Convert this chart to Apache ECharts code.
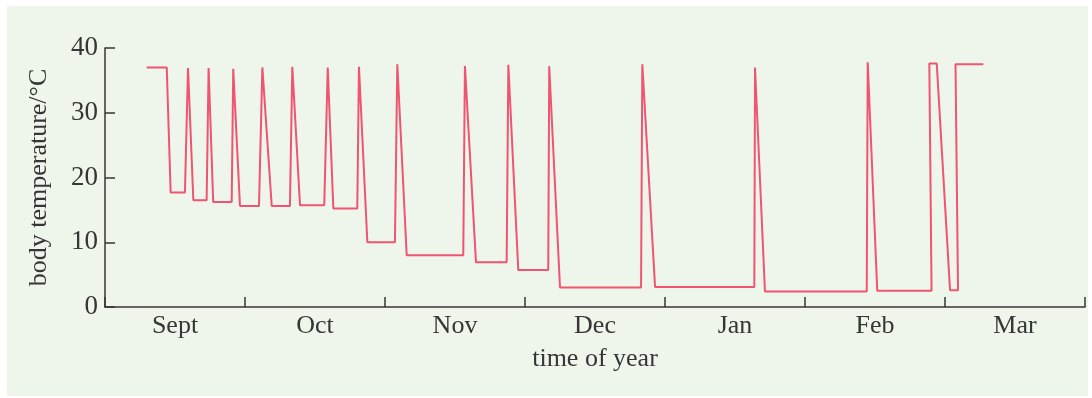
<!DOCTYPE html>
<html>
<head>
<meta charset="utf-8">
<style>
  html, body { margin: 0; padding: 0; background: #ffffff; }
  #chart { width: 1092px; height: 398px; }
</style>
<script src="https://cdn.jsdelivr.net/npm/echarts@6/dist/echarts.min.js"></script>
</head>
<body>
<div id="chart"></div>
<script>
// Month bands along the time axis
const months = ['Sept', 'Oct', 'Nov', 'Dec', 'Jan', 'Feb', 'Mar'];

// Time position in months from the start of September
const timeMonths = [
  0.298, 0.441, 0.469, 0.571, 0.593, 0.631, 0.726, 0.740, 0.773, 0.905,
  0.916, 0.964, 1.100, 1.124, 1.191, 1.321, 1.338, 1.393, 1.566, 1.591,
  1.631, 1.802, 1.814, 1.874, 2.071, 2.088, 2.155, 2.559, 2.571, 2.650,
  2.869, 2.881, 2.952, 3.166, 3.173, 3.250, 3.829, 3.838, 3.929, 4.638,
  4.643, 4.714, 5.441, 5.448, 5.516, 5.904, 5.888, 5.941, 6.036, 6.093,
  6.075, 6.274
];

// Body temperature in °C at each time position
const bodyTemp = [
  37.0, 37.0, 17.7, 17.7, 36.9, 16.5, 16.5, 36.9, 16.2, 16.2,
  36.8, 15.6, 15.6, 37.0, 15.6, 15.6, 37.1, 15.7, 15.7, 37.0,
  15.2, 15.2, 37.1, 10.0, 10.0, 37.5, 8.0, 8.0, 37.2, 6.9,
  6.9, 37.4, 5.7, 5.7, 37.2, 3.0, 3.0, 37.5, 3.1, 3.1,
  37.0, 2.4, 2.4, 37.8, 2.5, 2.5, 37.6, 37.6, 2.6, 2.6,
  37.5, 37.5
];

const yTicks = { min: 0, max: 40, interval: 10 };

const points = timeMonths.map((t, i) => [t, bodyTemp[i]]);

const serif = 'Liberation Serif';
const ink = '#363636';

const chart = echarts.init(document.getElementById('chart'), null, { renderer: 'canvas' });

chart.setOption({
  animation: false,
  backgroundColor: '#ffffff',
  graphic: [{
    type: 'rect',
    z: -10,
    silent: true,
    shape: { x: 7, y: 6, width: 1081, height: 390 },
    style: { fill: '#eef5eb' }
  }],
  grid: { left: 105, right: 7, top: 48, bottom: 91, containLabel: false },
  xAxis: [
    {
      type: 'category',
      data: months,
      boundaryGap: true,
      name: 'time of year',
      nameLocation: 'middle',
      nameGap: 39,
      nameTextStyle: { fontFamily: serif, fontSize: 26, color: ink },
      axisLine: { lineStyle: { color: ink, width: 1.5 } },
      axisTick: { show: true, inside: true, length: 10, alignWithLabel: false,
                  lineStyle: { color: ink, width: 1.5 } },
      axisLabel: { fontFamily: serif, fontSize: 26, color: ink, margin: 6 },
      splitLine: { show: false }
    },
    {
      type: 'value',
      min: 0,
      max: 7,
      show: false,
      splitLine: { show: false }
    }
  ],
  yAxis: {
    type: 'value',
    min: yTicks.min,
    max: yTicks.max,
    interval: yTicks.interval,
    name: 'body temperature/°C',
    nameLocation: 'middle',
    nameGap: 53,
    nameTextStyle: { fontFamily: serif, fontSize: 26, color: ink },
    axisLine: { show: true, lineStyle: { color: ink, width: 1.5 } },
    axisTick: { show: true, inside: true, length: 10, lineStyle: { color: ink, width: 1.5 } },
    axisLabel: { fontFamily: serif, fontSize: 27, color: ink, margin: 7 },
    splitLine: { show: false }
  },
  series: [{
    type: 'line',
    xAxisIndex: 1,
    data: points,
    showSymbol: false,
    symbol: 'none',
    lineStyle: { color: '#ef5470', width: 2 },
    z: 3
  }]
});
</script>
</body>
</html>
